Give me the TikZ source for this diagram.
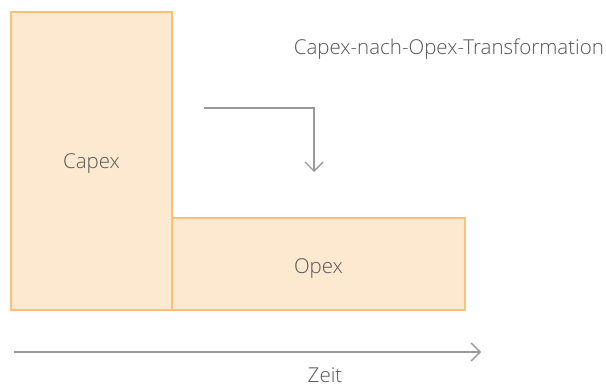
\documentclass[tikz,border=0pt]{standalone}
\usepackage{fontspec}
\setmainfont{Open Sans Light}
\usetikzlibrary{arrows.meta}
\definecolor{boxfill}{HTML}{FDE8D0}
\definecolor{boxline}{HTML}{FBC07A}
\definecolor{txt}{HTML}{555555}
\definecolor{arr}{HTML}{999999}
\begin{document}
\begin{tikzpicture}[x=1pt,y=-1pt,
  bar/.style={draw=boxline,fill=boxfill,line width=1.2pt},
  lbl/.style={text=txt,font=\fontsize{20.5}{24}\selectfont,inner sep=0pt},
  flow/.style={draw=arr,line width=1.3pt,-{Straight Barb[length=9pt,width=18pt]}}]
\useasboundingbox (0,0) rectangle (606,385);
% cost blocks
\draw[bar] (11,12) rectangle (172,310);
\draw[bar] (172,218) rectangle (465,310);
\node[lbl,anchor=base] (capex) at (91.5,169) {Capex};
\node[lbl,anchor=base] (opex) at (318.5,273) {Opex};
% transformation arrow
\coordinate (t0) at (204,108);
\coordinate (t1) at (314,108);
\coordinate (t2) at (314,172);
\draw[flow] (t0) -- (t1) -- (t2);
\node[lbl,anchor=base east] (title) at (604,55) {Capex-nach-Opex-Transformation};
% time axis
\coordinate (z0) at (14,352);
\coordinate (z1) at (481,352);
\draw[flow] (z0) -- (z1);
\node[lbl,anchor=base] (zeit) at (325,382) {Zeit};
\end{tikzpicture}
\end{document}
